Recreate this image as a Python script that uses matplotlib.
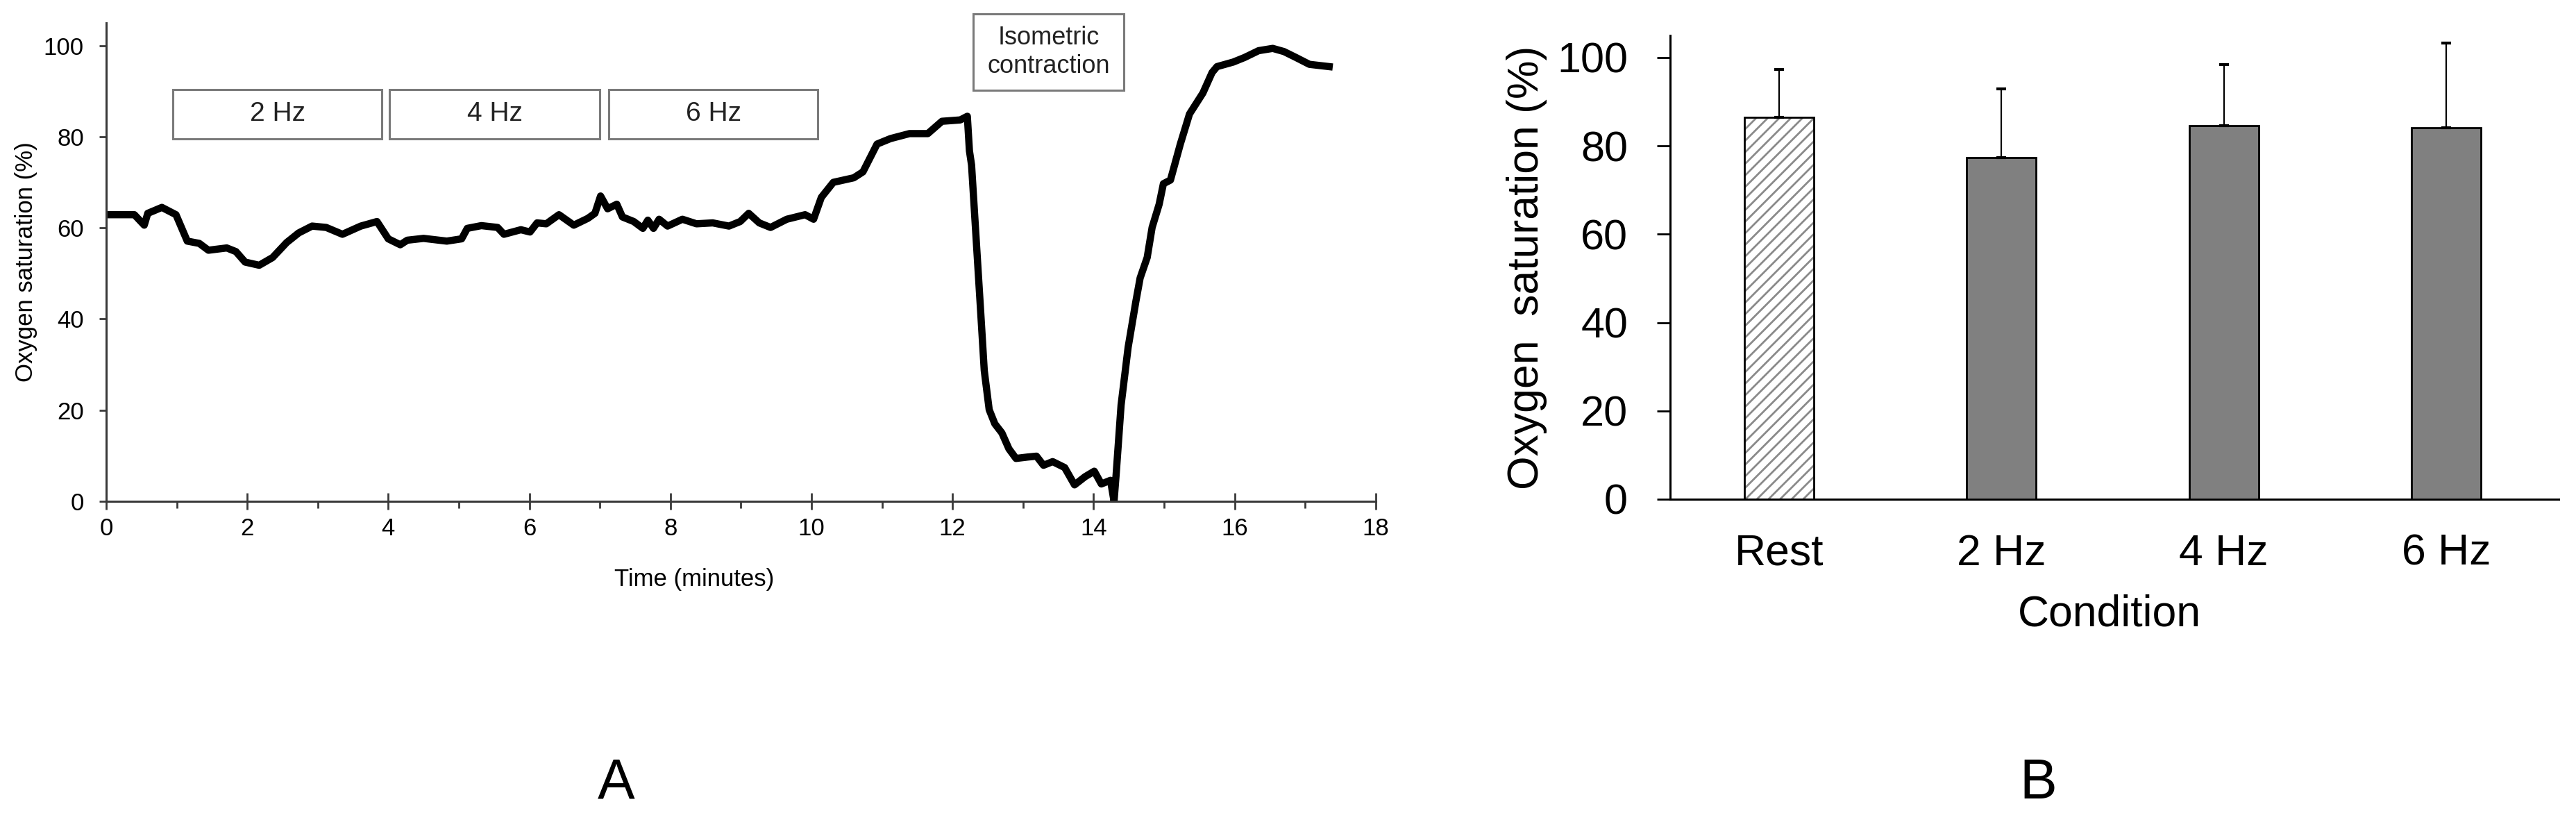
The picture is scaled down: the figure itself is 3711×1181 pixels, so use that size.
import matplotlib
matplotlib.use("Agg")
import matplotlib.pyplot as plt
import numpy as np
from matplotlib.patches import Rectangle
from matplotlib.ticker import MultipleLocator

plt.rcParams['font.family'] = ['Liberation Sans', 'DejaVu Sans']
plt.rcParams['hatch.linewidth'] = 2.0

# panel A: oxygen saturation trace (minutes, %)
time_min = [0.00, 0.40, 0.54, 0.59, 0.79, 0.99, 1.15, 1.32, 1.45, 1.71,
            1.84, 1.97, 2.17, 2.36, 2.56, 2.73, 2.92, 3.12, 3.35, 3.61,
            3.84, 4.00, 4.17, 4.27, 4.50, 4.83, 5.04, 5.12, 5.32, 5.55,
            5.64, 5.88, 6.01, 6.11, 6.24, 6.42, 6.63, 6.83, 6.93, 7.01,
            7.11, 7.24, 7.32, 7.48, 7.61, 7.68, 7.76, 7.84, 7.96, 8.17,
            8.37, 8.60, 8.83, 8.99, 9.11, 9.26, 9.42, 9.65, 9.91, 10.03,
            10.14, 10.31, 10.60, 10.73, 10.93, 11.12, 11.39, 11.65, 11.85, 12.11,
            12.21, 12.24, 12.27, 12.40, 12.45, 12.52, 12.60, 12.70, 12.80, 12.90,
            13.06, 13.19, 13.29, 13.42, 13.59, 13.73, 13.88, 14.01, 14.11, 14.24,
            14.29, 14.32, 14.39, 14.49, 14.60, 14.66, 14.76, 14.83, 14.93, 14.99,
            15.09, 15.23, 15.36, 15.55, 15.68, 15.75, 15.98, 16.14, 16.34, 16.54,
            16.70, 16.87, 17.06, 17.34]
saturation = [62.9, 62.9, 60.6, 63.2, 64.5, 62.9, 57.1, 56.6, 55.1, 55.6,
              54.8, 52.5, 51.8, 53.5, 56.8, 58.9, 60.4, 60.1, 58.6, 60.4,
              61.4, 57.6, 56.3, 57.3, 57.7, 57.1, 57.6, 59.9, 60.5, 60.1,
              58.6, 59.6, 59.1, 61.1, 60.9, 62.9, 60.6, 62.1, 63.2, 67.0,
              64.2, 65.2, 62.4, 61.4, 59.9, 61.7, 59.9, 61.9, 60.4, 61.9,
              60.9, 61.1, 60.4, 61.4, 63.2, 61.1, 60.1, 61.9, 62.9, 61.9,
              66.7, 70.0, 71.0, 72.3, 78.4, 79.6, 80.7, 80.7, 83.4, 83.7,
              84.5, 76.9, 73.8, 41.4, 28.7, 20.1, 17.0, 15.0, 11.5, 9.4,
              9.7, 9.9, 7.9, 8.7, 7.4, 3.6, 5.4, 6.6, 3.8, 4.6,
              0.0, 5.9, 21.1, 33.8, 43.9, 49.0, 53.5, 60.1, 65.2, 69.7,
              70.5, 78.4, 85.0, 89.6, 94.1, 95.4, 96.4, 97.4, 98.9, 99.4,
              98.7, 97.4, 95.9, 95.4]

# stimulation periods marked above the trace
stage_labels = ['2 Hz', '4 Hz', '6 Hz']
stage_start = [0.95, 4.02, 7.13]
stage_end = [3.91, 7.00, 10.09]

# panel B: mean oxygen saturation per condition
conditions = ['Rest', '2 Hz', '4 Hz', '6 Hz']
means = [86.5, 77.3, 84.5, 84.1]
sds = [10.8, 15.6, 13.9, 19.1]

fig = plt.figure(figsize=(37.12, 11.81), dpi=100)

#
# panel A
#
axA = fig.add_axes([0.0412, 0.3887, 0.4927, 0.5834])
axA.plot(time_min, saturation, color='black', lw=7.5, solid_joinstyle='round')
axA.set_xlim(0, 18)
axA.set_ylim(0, 105)
axA.xaxis.set_major_locator(MultipleLocator(2))
axA.xaxis.set_minor_locator(MultipleLocator(1))
axA.set_yticks(range(0, 101, 20))
for s in ['top', 'right']:
    axA.spines[s].set_visible(False)
for s in ['left', 'bottom']:
    axA.spines[s].set_color('#3a3a3a')
    axA.spines[s].set_linewidth(2.2)
axA.tick_params(axis='x', which='major', direction='inout', length=17, width=2,
                color='#3a3a3a', pad=8, labelsize=25)
axA.tick_params(axis='x', which='minor', direction='out', length=7, width=2,
                color='#3a3a3a')
axA.tick_params(axis='y', direction='out', length=7, width=2, color='#3a3a3a',
                pad=16, labelsize=25)
axA.set_xlabel('Time (minutes)', fontsize=25)
axA.xaxis.set_label_coords(0.463, -0.139)
axA.set_ylabel('Oxygen saturation (%)', fontsize=25)
axA.yaxis.set_label_coords(-0.054, 0.5)

for lab, x0, x1 in zip(stage_labels, stage_start, stage_end):
    axA.add_patch(Rectangle((x0, 79.5), x1 - x0, 10.8, fill=False,
                            ec='#7a7a7a', lw=2.2, clip_on=False))
    axA.text((x0 + x1) / 2, 85.0, lab, ha='center', va='center',
             fontsize=28, color='#222222')

# isometric contraction box (sticks out above the axes)
axA.add_patch(Rectangle((12.29, 90.2), 2.14, 16.8, fill=False,
                        ec='#7a7a7a', lw=2.2, clip_on=False))
axA.text(13.36, 98.6, 'Isometric\ncontraction', ha='center', va='center',
         fontsize=26, color='#222222', clip_on=False)

#
# panel B
#
axB = fig.add_axes([0.6482, 0.3912, 0.3448, 0.5656])
x = np.arange(len(conditions))
bw = 0.312
# hatched rest bar underneath, grey hatch
axB.bar(x[:1], means[:1], width=bw, color='white', edgecolor='#8a8a8a',
        hatch='//', linewidth=0, zorder=2)
colors = ['none'] + ['#808080'] * 3
axB.bar(x, means, width=bw, color=colors, edgecolor='black', linewidth=2,
        zorder=3, yerr=[[0] * len(sds), sds], capsize=5,
        error_kw=dict(elinewidth=1.6, capthick=3, ecolor='black', zorder=4))
axB.set_xlim(-0.49, 3.506)
axB.set_ylim(0, 105)
axB.set_yticks(range(0, 101, 20))
axB.set_xticks(x, conditions)
for s in ['top', 'right']:
    axB.spines[s].set_visible(False)
for s in ['left', 'bottom']:
    axB.spines[s].set_linewidth(2.2)
axB.tick_params(axis='x', length=0, pad=35, labelsize=45)
axB.tick_params(axis='y', direction='out', length=14, width=2, pad=30,
                labelsize=44)
axB.set_xlabel('Condition', fontsize=45)
axB.xaxis.set_label_coords(0.4945, -0.204)
axB.set_ylabel('Oxygen  saturation (%)', fontsize=45)
axB.yaxis.set_label_coords(-0.138, 0.5)

# panel letters
fig.text(888 / 3712, 1 - 1129 / 1181, 'A', ha='center', va='center', fontsize=58)
fig.text(2936 / 3712, 1 - 1129 / 1181, 'B', ha='center', va='center', fontsize=58)

fig.savefig('out.png', dpi=100, facecolor='white')
